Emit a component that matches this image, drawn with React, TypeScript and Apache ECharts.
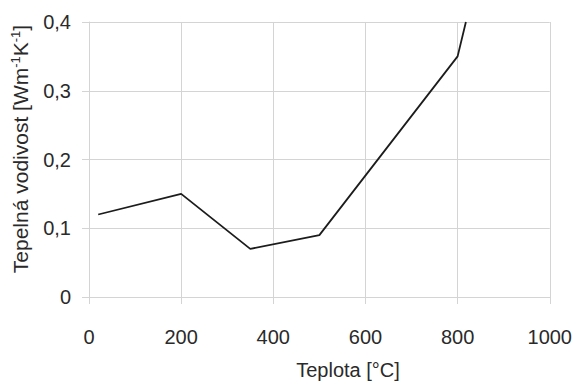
import React, { useEffect, useRef } from "react";
import * as echarts from "echarts";

const temperatures = [20, 200, 350, 500, 800, 818];
const conductivity = [0.12, 0.15, 0.07, 0.09, 0.35, 0.4];
const xTicks = [0, 200, 400, 600, 800, 1000];
const yTicks = [0, 0.1, 0.2, 0.3, 0.4];
const xTitle = "Teplota [°C]";
const yTitleParts = ["Tepelná vodivost [Wm", "-1", "K", "-1", "]"];

const FONT = "'Liberation Sans', Arial, sans-serif";
const TEXT = "#2a2a2a";
const GRIDC = "#d4d4d4";

export default function App() {
  const ref = useRef<HTMLDivElement>(null);
  useEffect(() => {
    if (!ref.current) return;
    const chart = echarts.init(ref.current, undefined, { renderer: "svg" });
    const data = temperatures.map((t, i) => [t, conductivity[i]]);
    chart.setOption({
      animation: false,
      backgroundColor: "#ffffff",
      grid: { left: 89, right: 25, top: 22, bottom: 88, containLabel: false },
      xAxis: {
        type: "value",
        min: xTicks[0],
        max: xTicks[xTicks.length - 1],
        interval: 200,
        axisLine: { show: true, lineStyle: { color: GRIDC, width: 1 } },
        axisTick: { show: true, inside: false, length: 7, lineStyle: { color: GRIDC } },
        splitLine: { show: true, lineStyle: { color: GRIDC, width: 1 } },
        axisLabel: {
          margin: 30,
          fontSize: 20,
          fontFamily: FONT,
          color: TEXT,
          formatter: (v: number) => String(v),
        },
      },
      yAxis: {
        type: "value",
        min: yTicks[0],
        max: yTicks[yTicks.length - 1],
        interval: 0.1,
        axisLine: { show: true, lineStyle: { color: GRIDC, width: 1 } },
        axisTick: { show: true, inside: false, length: 7, lineStyle: { color: GRIDC } },
        splitLine: { show: true, lineStyle: { color: GRIDC, width: 1 } },
        axisLabel: {
          margin: 18,
          fontSize: 20,
          fontFamily: FONT,
          color: TEXT,
          padding: [12, 0, 0, 0],
          formatter: (v: number) => (v === 0 ? "0" : v.toFixed(1).replace(".", ",")),
        },
      },
      graphic: [
        {
          type: "text",
          x: 348,
          y: 370,
          style: {
            text: xTitle,
            fontSize: 20,
            fontFamily: FONT,
            fill: TEXT,
            align: "center",
            verticalAlign: "middle",
          },
        },
        {
          type: "text",
          x: 20,
          y: 149,
          rotation: Math.PI / 2,
          style: {
            text: `${yTitleParts[0]}{sup|${yTitleParts[1]}}${yTitleParts[2]}{sup|${yTitleParts[3]}}${yTitleParts[4]}`,
            fontSize: 21,
            fontFamily: FONT,
            fill: TEXT,
            align: "center",
            verticalAlign: "middle",
            rich: {
              sup: {
                fontSize: 13,
                fontFamily: FONT,
                fill: TEXT,
                verticalAlign: "top",
                lineHeight: 22,
                padding: [0, 0, 8, 0],
              },
            },
          },
        },
      ],
      series: [
        {
          type: "line",
          data,
          clip: true,
          showSymbol: false,
          symbol: "none",
          lineStyle: { color: "#1c1c1c", width: 1.8 },
        },
      ],
    });
    return () => chart.dispose();
  }, []);
  return (
    <div
      ref={ref}
      style={{ position: "fixed", left: 0, top: 0, width: 575, height: 385, background: "#fff" }}
    />
  );
}
